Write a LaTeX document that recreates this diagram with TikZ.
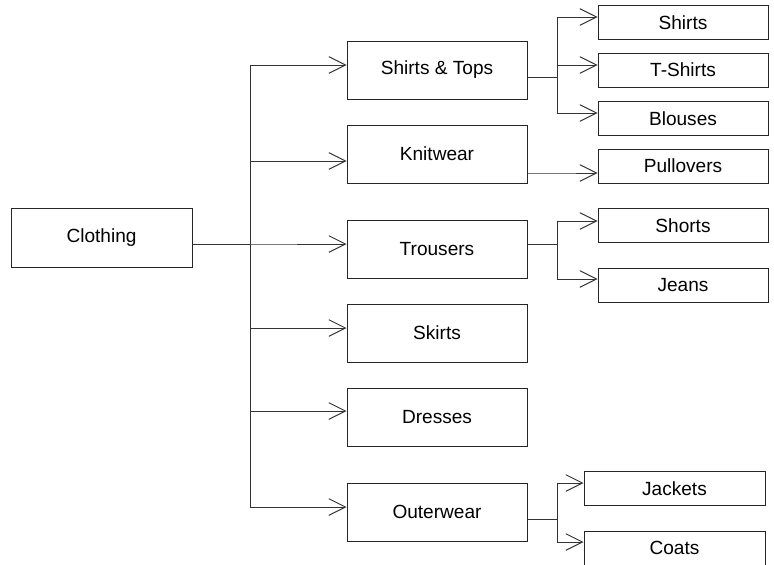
\documentclass[tikz,border=0pt]{standalone}
\usepackage{fontspec}
\setmainfont{Liberation Sans}
\usetikzlibrary{calc,arrows.meta}
\begin{document}
\begin{tikzpicture}[x=0.75pt, y=-0.75pt,
    catbox/.style={draw=black!85, line width=0.75pt, minimum width=135pt, minimum height=43.5pt,
        inner sep=0pt, font=\fontsize{14.3}{17}\selectfont},
    subbox/.style={catbox, minimum width=127.5pt, minimum height=25.5pt},
    link/.style={draw=black!80, line width=0.7pt, -{Straight Barb[length=12.5pt,width=12.5pt]}}]
    \useasboundingbox (0,0) rectangle (774,564);

    % Root
    \node[catbox, minimum width=135.75pt, minimum height=44.25pt] (clothing) at (101.5,237.5) {Clothing};

    % Categories
    \foreach \y/\name/\val in {
        70/shirtstops/Shirts \& Tops,
        154/knitwear/Knitwear,
        249/trousers/Trousers,
        333/skirts/Skirts,
        417/dresses/Dresses,
        512/outerwear/Outerwear
        } {
        \node[catbox] (\name) at (437,\y) {\val};
    }

    % Subcategories
    \foreach \y/\name/\val in {
        22.5/shirts/Shirts,
        70/tshirts/T-Shirts,
        118.5/blouses/Blouses,
        166/pullovers/Pullovers,
        225.5/shorts/Shorts,
        285.5/jeans/Jeans
        } {
        \node[subbox] (\name) at (683,\y) {\val};
    }
    \foreach \y/\name/\val in {
        488.5/jackets/Jackets,
        548/coats/Coats
        } {
        \node[subbox, minimum width=135.75pt] (\name) at (674.5,\y) {\val};
    }

    % Connectors
    \coordinate (trunk) at (250,0);
    \coordinate (subtrunk) at (557,0);
    \coordinate (clothingout) at ($(clothing.east)+(0,6.5)$);
    \foreach \name/\dy in {shirtstops/-5, knitwear/7, trousers/-5, skirts/-5, dresses/-6, outerwear/-5} {
        \draw[link] (clothingout) -- (clothingout -| trunk) |- ($(\name.west)+(0,\dy)$);
    }
    \foreach \from/\fdy/\to/\tdy in {
        shirtstops/7/shirts/-5.5,
        shirtstops/7/tshirts/-5,
        shirtstops/7/blouses/-5.5,
        knitwear/19/pullovers/7,
        trousers/-5/shorts/-4.5,
        trousers/-5/jeans/-6.5,
        outerwear/7/jackets/-5.5,
        outerwear/7/coats/-6
        } {
        \draw[link] ($(\from.east)+(0,\fdy)$) coordinate (out) -- (out -| subtrunk) |- ($(\to.west)+(0,\tdy)$);
    }
\end{tikzpicture}
\end{document}
